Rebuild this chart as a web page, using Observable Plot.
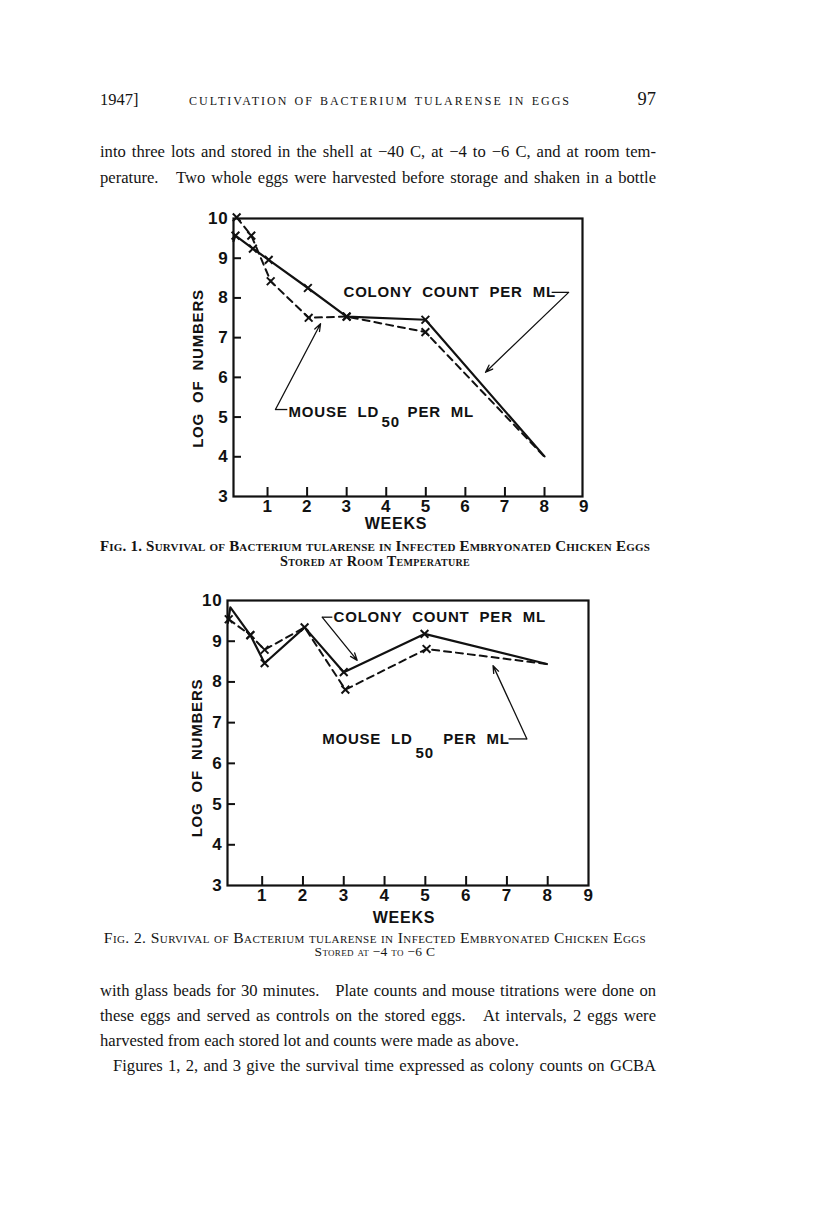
<!DOCTYPE html>
<html><head><meta charset="utf-8">
<script src="https://cdn.jsdelivr.net/npm/d3@7"></script>
<script src="https://cdn.jsdelivr.net/npm/@observablehq/plot@0.6"></script>
<style>
body{margin:0;background:#fff;}
#page{position:relative;width:816px;height:1224px;background:#fff;font-family:"Liberation Serif",serif;color:#141414;overflow:hidden;}
.abs{position:absolute;white-space:nowrap;line-height:20px;}
.line{position:absolute;left:100px;width:556px;white-space:nowrap;text-align:justify;text-align-last:justify;font-size:16.6px;line-height:20px;}
.cap{position:absolute;left:60px;width:630px;text-align:center;white-space:nowrap;font-variant:small-caps;line-height:16px;}
.chart{position:absolute;}
</style>
</head><body>
<div id="page">
  <div class="abs" style="left:100px;top:90px;font-size:16.5px;">1947]</div>
  <div class="abs" style="left:180px;width:400px;top:90px;font-size:16.5px;font-variant:small-caps;text-align:center;letter-spacing:2px;">cultivation of bacterium tularense in eggs</div>
  <div class="abs" style="left:600px;width:56px;top:89px;font-size:18.5px;text-align:right;">97</div>

  <div class="line" style="top:142px;">into three lots and stored in the shell at −40 C, at −4 to −6 C, and at room tem-</div>
  <div class="line" style="top:168px;">perature.&nbsp;&nbsp; Two whole eggs were harvested before storage and shaken in a bottle</div>

  <div id="chart1" class="chart" style="left:150px;top:200px;"></div>
  <div class="cap" style="top:538px;font-weight:bold;font-size:15px;letter-spacing:0.2px;">Fig. 1. Survival of Bacterium tularense in Infected Embryonated Chicken Eggs</div>
  <div class="cap" style="top:553px;font-weight:bold;font-size:14.3px;letter-spacing:0.3px;">Stored at Room Temperature</div>

  <div id="chart2" class="chart" style="left:150px;top:582px;"></div>
  <div class="cap" style="top:930px;font-size:15.6px;letter-spacing:0.4px;">Fig. 2. Survival of Bacterium tularense in Infected Embryonated Chicken Eggs</div>
  <div class="cap" style="top:944px;font-size:13.5px;letter-spacing:0.3px;">Stored at −4 to −6 C</div>

  <div class="line" style="top:981px;">with glass beads for 30 minutes.&nbsp;&nbsp; Plate counts and mouse titrations were done on</div>
  <div class="line" style="top:1006px;">these eggs and served as controls on the stored eggs.&nbsp;&nbsp; At intervals, 2 eggs were</div>
  <div class="line" style="top:1031px;text-align:left;text-align-last:left;width:auto;">harvested from each stored lot and counts were made as above.</div>
  <div class="line" style="top:1056px;left:113px;width:543px;">Figures 1, 2, and 3 give the survival time expressed as colony counts on GCBA</div>
</div>
<script>
// ---------- Data ----------
const yTicks = [3, 4, 5, 6, 7, 8, 9, 10];
const xTicks = [1, 2, 3, 4, 5, 6, 7, 8, 9];

// Fig. 1 — room temperature
const fig1ColonyWeeks  = [0.14, 0.19, 0.63, 1.03, 2.02, 3.0, 4.99, 8.0];
const fig1ColonyLog    = [9.43, 9.57, 9.24, 8.96, 8.25, 7.53, 7.45, 4.01];
const fig1ColonyMarked = [false, true, true, true, true, true, true, false];
const fig1MouseWeeks   = [0.22, 0.59, 1.08, 2.04, 3.0, 4.99, 8.0];
const fig1MouseLog     = [10.03, 9.57, 8.42, 7.5, 7.53, 7.14, 4.0];
const fig1MouseMarked  = [true, true, true, true, true, true, false];

// Fig. 2 — stored at -4 to -6 C
const fig2ColonyWeeks  = [0.16, 0.22, 0.71, 1.06, 2.04, 3.0, 4.98, 7.98];
const fig2ColonyLog    = [9.45, 9.83, 9.15, 8.46, 9.34, 8.24, 9.18, 8.44];
const fig2ColonyMarked = [false, false, true, true, true, true, true, false];
const fig2MouseWeeks   = [0.18, 0.71, 1.06, 2.04, 3.04, 5.03, 7.98];
const fig2MouseLog     = [9.54, 9.15, 8.79, 9.34, 7.81, 8.81, 8.44];
const fig2MouseMarked  = [true, true, true, false, true, true, false];

// Annotation labels and leaders (in data units: weeks, log)
const colonyText = "COLONY COUNT PER ML";
const mouseText = ["MOUSE LD", "50", "PER ML"];
const fig1Labels = {colony: [2.92, 8.14], mouse: [[1.53, 5.12], [3.88, 4.86], [4.54, 5.12]]};
const fig1Leaders = [
  {x1: 8.18, y1: 8.14, x2: 8.61, y2: 8.14, head: false},
  {x1: 8.61, y1: 8.14, x2: 6.51, y2: 6.13, head: true},
  {x1: 1.20, y1: 5.19, x2: 1.50, y2: 5.19, head: false},
  {x1: 1.20, y1: 5.19, x2: 2.34, y2: 7.35, head: true}
];
const fig2Labels = {colony: [2.75, 9.59], mouse: [[2.47, 6.60], [4.76, 6.24], [5.44, 6.60]]};
const fig2Leaders = [
  {x1: 2.47, y1: 9.59, x2: 2.72, y2: 9.59, head: false},
  {x1: 2.47, y1: 9.59, x2: 3.33, y2: 8.53, head: true},
  {x1: 7.04, y1: 6.60, x2: 7.49, y2: 6.60, head: false},
  {x1: 7.49, y1: 6.60, x2: 6.66, y2: 8.40, head: true}
];

// ---------- Drawing ----------
const toRows = (w, v, m) => w.map((d, i) => ({week: d, value: v[i], marked: m[i]}));

function makeChart(cfg) {
  const colony = toRows(cfg.cw, cfg.cv, cfg.cm);
  const mouse = toRows(cfg.mw, cfg.mv, cfg.mm);
  const x0 = cfg.xDomain[0];
  const sans = "Liberation Sans, Arial, sans-serif";
  const label = (t, pos) => Plot.text([t], {x: pos[0], y: pos[1], textAnchor: "start", lineAnchor: "middle", fontSize: 15, fontWeight: "bold"});
  return Plot.plot({
    width: cfg.width, height: cfg.height,
    marginLeft: cfg.ml, marginRight: cfg.mr, marginTop: cfg.mt, marginBottom: cfg.mb,
    style: {fontFamily: sans, background: "transparent", overflow: "visible", color: "#111", letterSpacing: "0.8px", wordSpacing: "5px"},
    x: {domain: cfg.xDomain},
    y: {domain: [3, 10]},
    marks: [
      Plot.frame({stroke: "#111", strokeWidth: 2.2}),
      Plot.ruleY(yTicks.slice(1, -1), {x1: x0, x2: x0, insetRight: -8, stroke: "#111", strokeWidth: 2}),
      Plot.ruleX(xTicks.slice(0, -1), {y1: 3, y2: 3, insetBottom: 9, stroke: "#111", strokeWidth: 2}),
      Plot.axisY({ticks: yTicks, tickSize: 0, tickPadding: 5, tickFormat: d3.format("d"), fontSize: 17, fontWeight: "bold", label: null}),
      Plot.axisX({ticks: xTicks, tickSize: 0, tickPadding: 3, tickFormat: d3.format("d"), fontSize: 17, fontWeight: "bold", label: null}),
      Plot.text(["LOG OF NUMBERS"], {frameAnchor: "left", textAnchor: "middle", rotate: -90, dx: cfg.ylabDx, dy: cfg.ylabDy, fontSize: 15, fontWeight: "bold", lineAnchor: "middle"}),
      Plot.text(["WEEKS"], {frameAnchor: "bottom", textAnchor: "middle", dx: cfg.xlabDx, dy: cfg.xlabDy, fontSize: 16, fontWeight: "bold", lineAnchor: "middle"}),
      Plot.line(mouse, {x: "week", y: "value", stroke: "#111", strokeWidth: 2, strokeDasharray: "7,5"}),
      Plot.line(colony, {x: "week", y: "value", stroke: "#111", strokeWidth: 2.2}),
      Plot.dot(mouse.filter(d => d.marked), {x: "week", y: "value", symbol: "times", r: 3.6, stroke: "#111", strokeWidth: 2}),
      Plot.dot(colony.filter(d => d.marked), {x: "week", y: "value", symbol: "times", r: 3.6, stroke: "#111", strokeWidth: 2}),
      label(colonyText, cfg.labels.colony),
      label(mouseText[0], cfg.labels.mouse[0]),
      label(mouseText[1], cfg.labels.mouse[1]),
      label(mouseText[2], cfg.labels.mouse[2]),
      Plot.link(cfg.leaders.filter(d => !d.head), {x1: "x1", y1: "y1", x2: "x2", y2: "y2", stroke: "#111", strokeWidth: 1.3}),
      Plot.arrow(cfg.leaders.filter(d => d.head), {x1: "x1", y1: "y1", x2: "x2", y2: "y2", stroke: "#111", strokeWidth: 1.3, headLength: 9, headAngle: 40})
    ]
  });
}

document.getElementById("chart1").append(makeChart({
  cw: fig1ColonyWeeks, cv: fig1ColonyLog, cm: fig1ColonyMarked,
  mw: fig1MouseWeeks, mv: fig1MouseLog, mm: fig1MouseMarked,
  xDomain: [0.14, 8.96], width: 450, height: 340, ml: 83, mr: 18, mt: 18, mb: 44,
  ylabDx: -35, ylabDy: 11, xlabDx: -12, xlabDy: 27,
  labels: fig1Labels, leaders: fig1Leaders
}));
document.getElementById("chart2").append(makeChart({
  cw: fig2ColonyWeeks, cv: fig2ColonyLog, cm: fig2ColonyMarked,
  mw: fig2MouseWeeks, mv: fig2MouseLog, mm: fig2MouseMarked,
  xDomain: [0.15, 9.0], width: 460, height: 350, ml: 77, mr: 22, mt: 18, mb: 47,
  ylabDx: -30, ylabDy: 15, xlabDx: -4, xlabDy: 32,
  labels: fig2Labels, leaders: fig2Leaders
}));
</script>
</body></html>
